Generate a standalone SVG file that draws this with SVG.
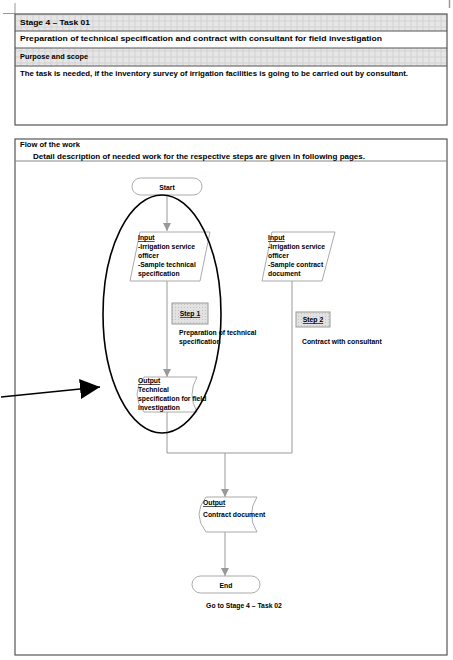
<svg xmlns="http://www.w3.org/2000/svg" width="453" height="660" viewBox="0 0 453 660">
  <defs>
    <pattern id="hatch" width="6" height="6" patternUnits="userSpaceOnUse">
      <rect width="6" height="6" fill="#e6e6e6"/>
      <path d="M0 3h3M3 0v3M3 6v-3M6 3h-3" stroke="#d2d2d2" stroke-width="1"/>
    </pattern>
    <pattern id="dots" width="3" height="3" patternUnits="userSpaceOnUse">
      <rect width="3" height="3" fill="#e2e2e2"/>
      <rect x="1" y="1" width="1" height="1" fill="#c4c4c4"/>
    </pattern>
    <marker id="arr" viewBox="0 0 10 10" refX="10" refY="5" markerWidth="8" markerHeight="8" orient="auto" markerUnits="userSpaceOnUse">
      <path d="M0 0L10 5L0 10Z" fill="#999"/>
    </marker>
    <marker id="blk" viewBox="0 0 10 10" refX="10" refY="5" markerWidth="20" markerHeight="20" orient="auto" markerUnits="userSpaceOnUse">
      <path d="M0 0L10 5L0 10Z" fill="#000"/>
    </marker>
  </defs>
  <style>
    .frame { fill: none; stroke: #555; stroke-width: 1.2; }
    .t { font-family: "Liberation Sans", Arial, sans-serif; font-size: 7.5px; font-weight: bold; fill: #000; }
    .n { font-family: "Liberation Sans", Arial, sans-serif; font-size: 6.8px; font-weight: bold; fill: #000; }
    .u { text-decoration: underline; }
    .shape { fill: #fff; stroke: #aaa; stroke-width: 1; }
    .step { fill: url(#dots); stroke: #999; stroke-width: 1; }
    .conn { fill: none; stroke: #999; stroke-width: 1; }
  </style>

  <rect width="453" height="660" fill="#fff"/>

  <!-- crop marks -->
  <path d="M3 13.5H15M15 3V13.5" stroke="#999" stroke-width="1" fill="none"/>
  <path d="M449.5 0V8" stroke="#999" stroke-width="1.5" fill="none"/>

  <!-- task header table -->
  <g id="task-table">
    <rect x="15" y="14" width="432" height="17" fill="url(#hatch)"/>
    <rect x="15" y="48" width="432" height="18" fill="url(#hatch)"/>
    <rect class="frame" x="15" y="14" width="432" height="111"/>
    <path d="M15 31H447M15 48H447M15 66H447" stroke="#555" stroke-width="1.2"/>
    <text class="t" x="20" y="24.5" textLength="70" lengthAdjust="spacingAndGlyphs">Stage 4 – Task 01</text>
    <text class="t" x="20" y="41" textLength="362" lengthAdjust="spacingAndGlyphs">Preparation of technical specification and contract with consultant for field investigation</text>
    <text class="t" x="20" y="58.5" textLength="68" lengthAdjust="spacingAndGlyphs">Purpose and scope</text>
    <text class="t" x="20" y="75.5" textLength="388" lengthAdjust="spacingAndGlyphs">The task is needed, if the inventory survey of irrigation facilities is going to be carried out by consultant.</text>
  </g>

  <!-- flow frame -->
  <g id="flow-frame">
    <rect class="frame" x="15" y="139" width="432" height="516"/>
    <path d="M15 161H447" stroke="#888" stroke-width="1"/>
    <text class="t" x="20" y="147" textLength="60" lengthAdjust="spacingAndGlyphs">Flow of the work</text>
    <text class="t" x="33" y="158.5" textLength="332" lengthAdjust="spacingAndGlyphs">Detail description of needed work for the respective steps are given in following pages.</text>
  </g>

  <!-- connectors -->
  <g id="connectors">
    <path class="conn" d="M167 195V231" marker-end="url(#arr)"/>
    <path class="conn" d="M167 281V377" marker-end="url(#arr)"/>
    <path class="conn" d="M167 412V453H292V281"/>
    <path class="conn" d="M225 453V497" marker-end="url(#arr)"/>
    <path class="conn" d="M225 532V576" marker-end="url(#arr)"/>
  </g>

  <g id="start">
    <rect class="shape" x="132" y="178" width="70" height="17" rx="8.5"/>
    <text class="n" x="167" y="189.5" text-anchor="middle">Start</text>
  </g>

  <g id="input-1">
    <path class="shape" d="M140 232H210L200 281H130Z"/>
    <text class="n"><tspan class="u" x="138" y="240">Input</tspan><tspan x="138" y="249">-Irrigation service</tspan><tspan x="138" y="258">officer</tspan><tspan x="138" y="267">-Sample technical</tspan><tspan x="138" y="276">specification</tspan></text>
  </g>

  <g id="input-2">
    <path class="shape" d="M272 232H335L322 281H262Z"/>
    <text class="n"><tspan class="u" x="268" y="240">Input</tspan><tspan x="268" y="249">-Irrigation service</tspan><tspan x="268" y="258">officer</tspan><tspan x="268" y="267">-Sample contract</tspan><tspan x="268" y="276">document</tspan></text>
  </g>

  <g id="step-1">
    <rect class="step" x="172" y="303" width="36" height="21"/>
    <text class="n u" x="190" y="316" text-anchor="middle">Step 1</text>
    <text class="n"><tspan x="179" y="335">Preparation of technical</tspan><tspan x="179" y="344">specification</tspan></text>
  </g>

  <g id="step-2">
    <rect class="step" x="296" y="312" width="34" height="15"/>
    <text class="n u" x="313" y="322" text-anchor="middle">Step 2</text>
    <text class="n" x="302" y="344">Contract with consultant</text>
  </g>

  <g id="output-1">
    <path class="shape" d="M144 377H197Q187 394.5 197 412H144Q130 394.5 144 377Z"/>
    <text class="n"><tspan class="u" x="138" y="383">Output</tspan><tspan x="138" y="392">Technical</tspan><tspan x="138" y="401">specification for field</tspan><tspan x="138" y="410">investigation</tspan></text>
  </g>

  <g id="output-2">
    <path class="shape" d="M206 497H257Q246 514.5 257 532H206Q192 514.5 206 497Z"/>
    <text class="n"><tspan class="u" x="203" y="505">Output</tspan><tspan x="203" y="517">Contract document</tspan></text>
  </g>

  <g id="end">
    <rect class="shape" x="192" y="576" width="68" height="17" rx="8.5"/>
    <text class="n" x="226" y="587.5" text-anchor="middle">End</text>
  </g>

  <text class="n" x="244" y="608" text-anchor="middle">Go to Stage 4 – Task 02</text>

  <!-- highlight ellipse and pointer -->
  <g id="highlight">
    <ellipse cx="162" cy="314" rx="59" ry="119" fill="none" stroke="#000" stroke-width="1.6"/>
    <path d="M1 397L100 387" fill="none" stroke="#000" stroke-width="1.3" marker-end="url(#blk)"/>
  </g>
</svg>
